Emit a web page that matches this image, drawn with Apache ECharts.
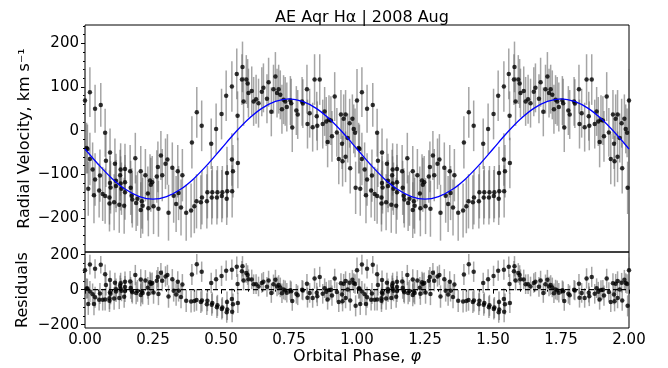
<!DOCTYPE html>
<html><head><meta charset="utf-8">
<script src="https://cdn.jsdelivr.net/npm/echarts@6/dist/echarts.min.js"></script>
<style>html,body{margin:0;padding:0;background:#fff}#c{width:668px;height:368px}</style>
</head><body><div id="c"></div>
<script>
// Orbital phase of each spectrum (one cycle, 0-1); plotted again at +1
const phase = [
0.000,0.006,0.009,0.012,0.018,0.018,0.028,0.033,0.037,0.037,
0.052,0.055,0.058,0.065,0.074,0.074,0.077,0.090,0.090,0.092,
0.092,0.094,0.107,0.110,0.114,0.114,0.126,0.129,0.131,0.131,
0.134,0.144,0.147,0.147,0.147,0.166,0.168,0.172,0.174,0.185,
0.188,0.193,0.205,0.205,0.209,0.212,0.222,0.231,0.233,0.239,
0.242,0.247,0.252,0.264,0.268,0.270,0.279,0.284,0.296,0.303,
0.307,0.321,0.326,0.335,0.341,0.344,0.353,0.358,0.372,0.390,
0.393,0.402,0.410,0.411,0.426,0.429,0.430,0.448,0.450,0.464,
0.466,0.468,0.482,0.485,0.487,0.502,0.503,0.505,0.519,0.521,
0.522,0.523,0.540,0.540,0.541,0.544,0.558,0.561,0.562,0.577,
0.579,0.583,0.593,0.598,0.601,0.613,0.620,0.629,0.638,0.650,
0.656,0.669,0.675,0.685,0.693,0.700,0.706,0.712,0.718,0.724,
0.730,0.736,0.742,0.755,0.758,0.762,0.777,0.782,0.798,0.801,
0.816,0.818,0.826,0.837,0.844,0.852,0.854,0.863,0.874,0.881,
0.887,0.892,0.897,0.904,0.908,0.918,0.926,0.933,0.941,0.945,
0.947,0.951,0.958,0.958,0.966,0.973,0.975,0.983,0.988,0.993,
0.995];
// Radial velocity, km/s
const rv = [
69,-40,-42,-133,88,-65,-89,-148,50,-112,
-137,-103,59,-145,-5,-150,-69,-153,-167,-50,
-120,-130,-164,-76,-115,-127,-170,-102,-89,-121,
-133,-172,-88,-118,-141,-93,-131,-149,-158,-63,
-166,-156,-182,-93,-162,-172,-102,-144,-178,-114,
-124,-118,-173,-105,-83,-179,-57,-102,-76,-66,
-188,-85,-149,-168,-93,-143,-176,-102,-188,-183,
-27,-173,-162,42,-164,11,-153,-162,-141,-30,
-153,-141,4,-153,-141,38,-150,-141,80,-156,
-97,-139,101,-66,-139,-93,130,34,-74,117,
146,67,117,108,86,91,67,72,63,89,
98,73,111,43,95,124,86,95,82,49,
71,67,54,69,63,7,46,37,67,62,
95,15,40,8,117,33,11,117,15,44,
21,-26,25,23,-13,78,-4,-65,37,-30,
-70,27,37,-60,-17,17,-86,27,4,-5,
-131];
// 1-sigma uncertainty, km/s
const err = [
72,58,56,62,57,60,62,64,55,60,
62,60,50,62,55,63,60,62,64,55,
62,60,64,58,62,60,64,58,60,62,
60,64,58,62,63,60,62,63,64,58,
64,62,64,58,63,64,60,62,64,60,
62,60,64,60,58,64,56,60,58,58,
64,58,62,64,60,62,64,60,64,62,
60,62,62,58,62,58,62,62,60,58,
62,60,58,62,60,58,60,60,58,60,
60,60,58,60,60,60,58,56,58,58,
58,56,56,56,56,56,56,56,56,56,
56,56,56,56,56,56,56,56,56,56,
56,56,56,56,56,56,56,56,56,56,
56,56,56,56,58,56,56,58,56,56,
56,58,56,56,58,56,56,58,56,58,
58,56,56,58,56,56,58,56,56,56,
60];
// Fitted curve, one cycle
const fitPhase = [0,0.05,0.10,0.15,0.20,0.25,0.30,0.35,0.40,0.45,0.50,0.55,0.60,0.65,0.70,0.75,0.80,0.85,0.90,0.95,1.00];
const fitRV = [-42,-78,-110,-135,-151,-157,-151,-135,-110,-78,-42,-6,26,51,67,73,67,51,26,-6,-42];
const cycles = [0,1,2];
const rvTicks = [-200,-100,0,100,200];
const rvMinorTicks = [-260,-240,-220,-180,-160,-140,-120,-80,-60,-40,-20,20,40,60,80,120,140,160,180,220,240];
const resTicks = [-200,0,200];
const resMinorTicks = [-150,-100,-50,50,100,150];

function fitAt(p){
  for (let i=0;i<fitPhase.length-1;i++){
    if (p>=fitPhase[i] && p<=fitPhase[i+1]){
      const t=(p-fitPhase[i])/(fitPhase[i+1]-fitPhase[i]);
      return fitRV[i]+t*(fitRV[i+1]-fitRV[i]);
    }
  }
  return fitRV[fitRV.length-1];
}

const pts=[], bars=[], rpts=[], rbars=[];
cycles.forEach(c=>{
  phase.forEach((p,i)=>{
    const x=p+c;
    if (x>2.0001) return;
    const r = rv[i]-fitAt(p);
    pts.push([x,rv[i]]); bars.push([x,rv[i]-err[i],rv[i]+err[i]]);
    rpts.push([x,r]); rbars.push([x,r-err[i],r+err[i]]);
  });
});
const fitLine=[];
[0,1].forEach(c=>fitPhase.forEach((p,i)=>{ if(c===1 && i===0) return; fitLine.push([p+c,fitRV[i]]); }));

const FONT='DejaVu Sans';
const fmt=v=> v<0 ? '\u2212'+Math.abs(v) : String(v);
function barItem(params, api){
  const x=api.value(0);
  const lo=api.coord([x,api.value(1)]), hi=api.coord([x,api.value(2)]);
  return {type:'line', shape:{x1:lo[0],y1:lo[1],x2:hi[0],y2:hi[1]},
    style:{stroke:'rgba(100,100,100,0.58)', lineWidth:1.5}};
}
const lbl={color:'#000', fontFamily:FONT, fontSize:15};
const chart=echarts.init(document.getElementById('c'),null,{renderer:'canvas'});
chart.setOption({
  animation:false,
  backgroundColor:'#fff',
  title:{text:'AE Aqr H\u03b1 | 2008 Aug', left:357, top:5, textAlign:'center',
    textStyle:{fontFamily:FONT, fontSize:16, fontWeight:'normal', color:'#000'}},
  grid:[
    {left:85, top:25, width:544, height:227, show:true, borderColor:'#000', borderWidth:1, backgroundColor:'transparent'},
    {left:85, top:252, width:544, height:76, show:true, borderColor:'#000', borderWidth:1, backgroundColor:'transparent'}
  ],
  xAxis:[
    {gridIndex:0, type:'value', min:0, max:2, show:false, splitLine:{show:false}},
    {gridIndex:1, type:'value', min:0, max:2, interval:0.25,
      axisLine:{show:false}, splitLine:{show:false},
      axisTick:{show:true, inside:false, length:4, lineStyle:{color:'#000'}},
      minorTick:{show:true, splitNumber:5, length:2, lineStyle:{color:'#000'}},
      axisLabel:Object.assign({margin:5, formatter:v=>v.toFixed(2)},lbl),
      name:'{a|Orbital Phase, }{b|\u03c6}', nameLocation:'middle', nameGap:21, nameMoveOverlap:false,
      nameTextStyle:{color:'#000', fontFamily:FONT, fontSize:16,
        rich:{a:{fontFamily:FONT,fontSize:16,color:'#000'}, b:{fontFamily:FONT,fontSize:16,fontStyle:'italic',color:'#000'}}}}
  ],
  yAxis:[
    {gridIndex:0, type:'value', position:'left', min:-278, max:242, axisLine:{show:false}, splitLine:{show:false},
      axisTick:{show:true, length:4, customValues:rvTicks, lineStyle:{color:'#000'}},
      axisLabel:Object.assign({margin:6, customValues:rvTicks, formatter:fmt},lbl),
      name:'Radial Velocity, km s\u207b\u00b9', nameLocation:'middle', nameRotate:90, nameGap:52, nameMoveOverlap:false,
      nameTextStyle:{color:'#000', fontFamily:FONT, fontSize:16}},
    {gridIndex:0, type:'value', position:'left', offset:0, min:-278, max:242, axisLine:{show:false}, splitLine:{show:false},
      axisTick:{show:true, length:2, customValues:rvMinorTicks, lineStyle:{color:'#000'}},
      axisLabel:{show:false, customValues:rvMinorTicks}},
    {gridIndex:1, type:'value', position:'left', min:-219, max:215, axisLine:{show:false}, splitLine:{show:false},
      axisTick:{show:true, length:4, customValues:resTicks, lineStyle:{color:'#000'}},
      axisLabel:Object.assign({margin:6, customValues:resTicks, formatter:fmt},lbl),
      name:'Residuals', nameLocation:'middle', nameRotate:90, nameGap:54, nameMoveOverlap:false,
      nameTextStyle:{color:'#000', fontFamily:FONT, fontSize:16}},
    {gridIndex:1, type:'value', position:'left', offset:0, min:-219, max:215, axisLine:{show:false}, splitLine:{show:false},
      axisTick:{show:true, length:2, customValues:resMinorTicks, lineStyle:{color:'#000'}},
      axisLabel:{show:false, customValues:resMinorTicks}}
  ],
  series:[
    {type:'custom', xAxisIndex:0, yAxisIndex:0, renderItem:barItem, data:bars, encode:{x:0,y:[1,2]}, z:1},
    {type:'scatter', xAxisIndex:0, yAxisIndex:0, data:pts, symbolSize:4.5, itemStyle:{color:'#000'}, clip:true, z:2},
    {type:'line', xAxisIndex:0, yAxisIndex:0, data:fitLine, smooth:0.35, showSymbol:false, symbol:'none',
      lineStyle:{color:'#0000ff', width:1.3}, z:3},
    {type:'custom', xAxisIndex:1, yAxisIndex:2, renderItem:barItem, data:rbars, encode:{x:0,y:[1,2]}, z:1},
    {type:'scatter', xAxisIndex:1, yAxisIndex:2, data:rpts, symbolSize:4.5, itemStyle:{color:'#000'}, clip:true, z:2},
    {type:'line', xAxisIndex:1, yAxisIndex:2, data:[[0,0],[2,0]], showSymbol:false, symbol:'none',
      lineStyle:{color:'#000', width:1.2, type:[5,3]}, z:3}
  ]
});
</script></body></html>
